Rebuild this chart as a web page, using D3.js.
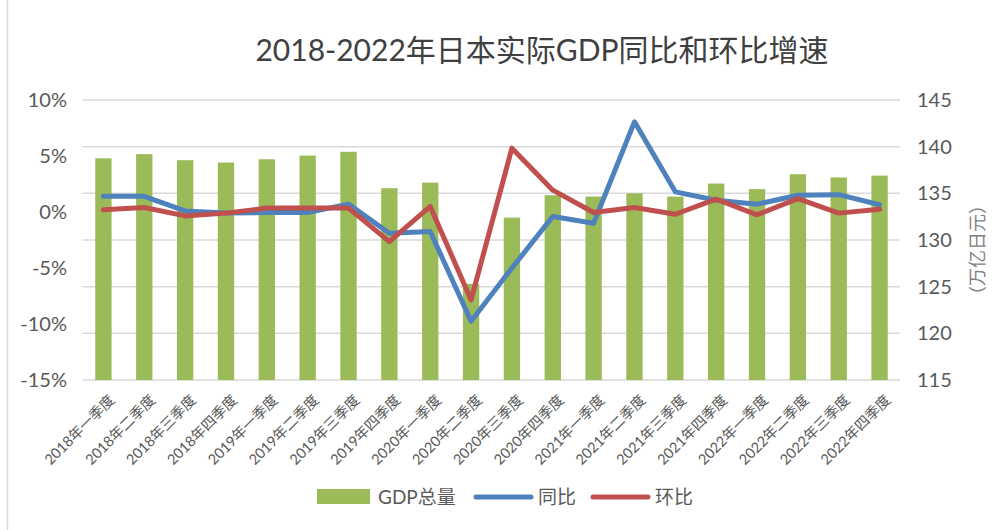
<!DOCTYPE html>
<html>
<head>
<meta charset="utf-8">
<script src="https://cdn.jsdelivr.net/npm/d3@7"></script>
<style>
  body { margin: 0; background: #fff; }
  svg text { font-family: Lato, "Noto Sans CJK SC", sans-serif; }
</style>
</head>
<body>
<div id="chart"></div>
<script>
// quarters
var quarters = ["2018年一季度", "2018年二季度", "2018年三季度", "2018年四季度",
    "2019年一季度", "2019年二季度", "2019年三季度", "2019年四季度",
    "2020年一季度", "2020年二季度", "2020年三季度", "2020年四季度",
    "2021年一季度", "2021年二季度", "2021年三季度", "2021年四季度",
    "2022年一季度", "2022年二季度", "2022年三季度", "2022年四季度"]

// GDP total, 万亿日元 (right axis)
var gdpTotal = [138.75, 139.2, 138.55, 138.3, 138.65, 139.05, 139.45, 135.55, 136.15, 125.3,
    132.4, 134.8, 134.65, 135.0, 134.65, 136.05, 135.45, 137.05, 136.7, 136.9]

// year-on-year, %
var yoy = [1.4, 1.4, 0.1, -0.1, -0.05, -0.05, 0.7, -1.9, -1.75, -9.75,
    -5.0, -0.4, -1.0, 8.05, 1.8, 1.05, 0.7, 1.5, 1.55, 0.65]

// quarter-on-quarter, %
var qoq = [0.2, 0.4, -0.35, -0.1, 0.35, 0.35, 0.35, -2.65, 0.5, -7.85,
    5.7, 1.95, -0.05, 0.4, -0.2, 1.15, -0.25, 1.2, -0.1, 0.25]

var leftTicks = [10, 5, 0, -5, -10, -15]
var rightTicks = [145, 140, 135, 130, 125, 120, 115]

var W = 1005, H = 530
var plot = { left: 83, right: 900, top: 100, bottom: 380 }

var svg = d3.select("#chart").append("svg")
    .attr("width", W)
    .attr("height", H)

// chart frame edge on the left
svg.append("line")
    .attr("x1", 7.5).attr("x2", 7.5)
    .attr("y1", 0).attr("y2", H)
    .attr("stroke", "#d9d9d9")
    .attr("stroke-width", 1.5)

svg.append("text")
    .attr("x", 542)
    .attr("y", 61)
    .attr("text-anchor", "middle")
    .attr("fill", "#404040")
    .style("font-size", "30px")
    .text("2018-2022年日本实际GDP同比和环比增速")

var x = d3.scaleBand()
    .domain(quarters)
    .range([plot.left, plot.right])
    .paddingInner(0.6)
    .paddingOuter(0.3)

var yL = d3.scaleLinear().domain([-15, 10]).range([plot.bottom, plot.top])
var yR = d3.scaleLinear().domain([115, 145]).range([plot.bottom, plot.top])

// gridlines follow the right axis
svg.append("g")
    .selectAll("line")
    .data(rightTicks)
    .enter().append("line")
    .attr("x1", plot.left)
    .attr("x2", plot.right)
    .attr("y1", function (d) { return yR(d); })
    .attr("y2", function (d) { return yR(d); })
    .attr("stroke", "#d9d9d9")
    .attr("stroke-width", 1.5)

// left axis
var axL = svg.append("g")
    .attr("transform", "translate(" + plot.left + ",0)")
    .call(d3.axisLeft(yL).tickValues(leftTicks).tickSize(0).tickPadding(16)
        .tickFormat(function (d) { return d + "%"; }))
axL.select(".domain").remove()
axL.selectAll("text").attr("fill", "#595959").style("font-size", "20px")

// right axis
var axR = svg.append("g")
    .attr("transform", "translate(" + plot.right + ",0)")
    .call(d3.axisRight(yR).tickValues(rightTicks).tickSize(0).tickPadding(17))
axR.select(".domain").remove()
axR.selectAll("text").attr("fill", "#595959").style("font-size", "20px")

svg.append("text")
    .attr("transform", "translate(984,250) rotate(-90)")
    .attr("text-anchor", "middle")
    .attr("fill", "#7f7f7f")
    .style("font-size", "18px")
    .text("（万亿日元）")

// bars
svg.append("g")
    .selectAll("rect")
    .data(gdpTotal)
    .enter().append("rect")
    .attr("x", function (d, i) { return x(quarters[i]); })
    .attr("y", function (d) { return yR(d); })
    .attr("width", x.bandwidth())
    .attr("height", function (d) { return yR(115) - yR(d); })
    .attr("fill", "#9bbb59")

var cx = function (d, i) { return x(quarters[i]) + x.bandwidth() / 2; }

var line = d3.line()
    .x(cx)
    .y(function (d) { return yL(d); })

svg.append("path")
    .datum(yoy)
    .attr("d", line)
    .attr("fill", "none")
    .attr("stroke", "#4f81bd")
    .attr("stroke-width", 5)
    .attr("stroke-linejoin", "round")
    .attr("stroke-linecap", "round")

svg.append("path")
    .datum(qoq)
    .attr("d", line)
    .attr("fill", "none")
    .attr("stroke", "#c0504d")
    .attr("stroke-width", 5)
    .attr("stroke-linejoin", "round")
    .attr("stroke-linecap", "round")

// category labels, rotated
svg.append("g")
    .selectAll("text")
    .data(quarters)
    .enter().append("text")
    .attr("transform", function (d, i) {
        return "translate(" + (cx(d, i) + 12) + ",401) rotate(-45)";
    })
    .attr("text-anchor", "end")
    .attr("fill", "#595959")
    .style("font-size", "14.5px")
    .text(function (d) { return d; })

// legend
var legend = svg.append("g")
legend.append("rect")
    .attr("x", 317).attr("y", 489)
    .attr("width", 53).attr("height", 15)
    .attr("fill", "#9bbb59")
legend.append("text")
    .attr("x", 378).attr("y", 504)
    .attr("fill", "#595959")
    .style("font-size", "19px")
    .text("GDP总量")
legend.append("line")
    .attr("x1", 476).attr("x2", 531)
    .attr("y1", 497).attr("y2", 497)
    .attr("stroke", "#4f81bd").attr("stroke-width", 5)
    .attr("stroke-linecap", "round")
legend.append("text")
    .attr("x", 538).attr("y", 504)
    .attr("fill", "#595959")
    .style("font-size", "19px")
    .text("同比")
legend.append("line")
    .attr("x1", 593).attr("x2", 648)
    .attr("y1", 497).attr("y2", 497)
    .attr("stroke", "#c0504d").attr("stroke-width", 5)
    .attr("stroke-linecap", "round")
legend.append("text")
    .attr("x", 655).attr("y", 504)
    .attr("fill", "#595959")
    .style("font-size", "19px")
    .text("环比")
</script>
</body>
</html>
